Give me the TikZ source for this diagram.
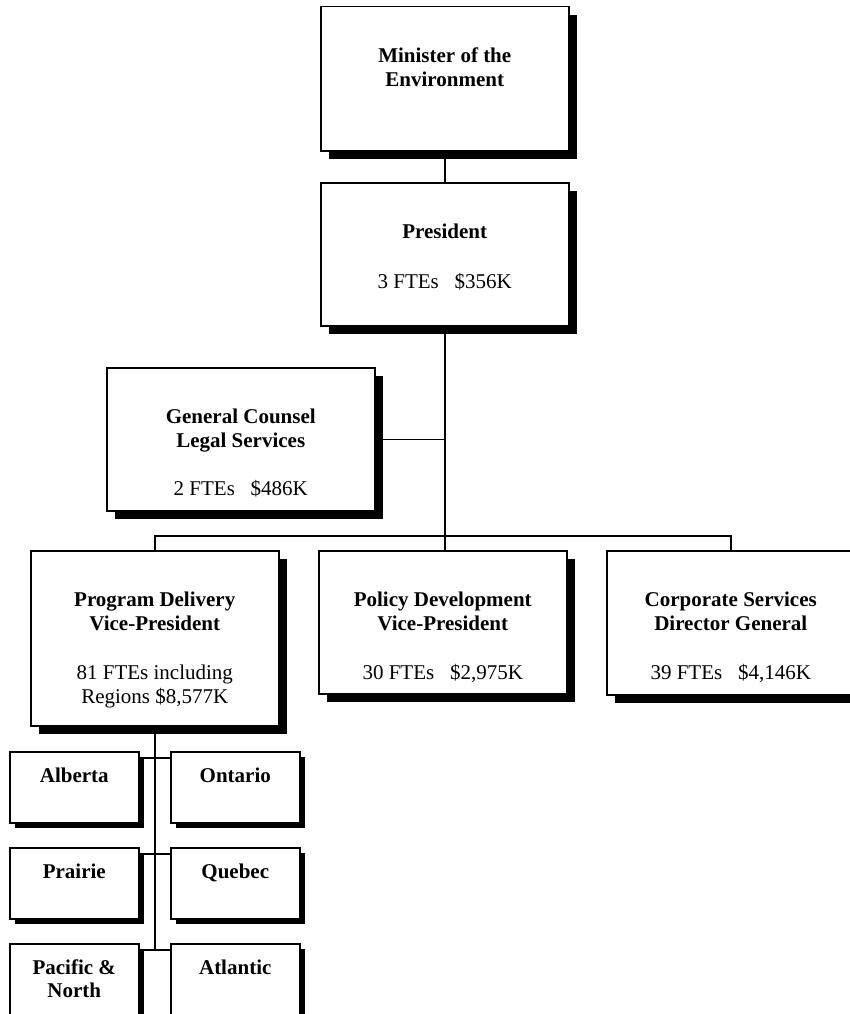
\documentclass[tikz,border=0pt]{standalone}
\usepackage{fontspec}
\setmainfont{Liberation Serif}
\usetikzlibrary{shadows}

\begin{document}
\begin{tikzpicture}[x=1pt,y=-1pt,
  unit/.style={rectangle,draw,fill=white,line width=1.5pt,anchor=north west,minimum width=248pt},
  bigshadow/.style={drop shadow={shadow xshift=8pt,shadow yshift=-8pt,fill=black,opacity=1}},
  smallshadow/.style={drop shadow={shadow xshift=5pt,shadow yshift=-5pt,fill=black,opacity=1}},
  region/.style={unit,smallshadow,minimum width=129pt,minimum height=71pt},
  txt/.style={anchor=north,align=center,inner sep=0pt,font=\fontsize{21}{24}\selectfont}]
\def\hTop{-42pt}
\def\hReg{-17pt}
\useasboundingbox (0,0) rectangle (850,1014);

\path
(320,6) node [unit,bigshadow,minimum height=144pt] (min) {}
(320,182) node [unit,bigshadow,minimum height=143pt] (pres) {}
(106,367) node [unit,bigshadow,minimum width=268pt,minimum height=143pt] (gc) {}
(30,550) node [unit,bigshadow,minimum height=175pt] (pd) {}
(318,550) node [unit,bigshadow,minimum height=143pt] (pol) {}
(606,550) node [unit,bigshadow,minimum height=144pt] (cs) {}
(9,751) node [region] (alb) {}
(170,751) node [region] (ont) {}
(9,847) node [region] (pra) {}
(170,847) node [region] (que) {}
(9,943) node [region,minimum height=80pt] (pac) {}
(170,943) node [region,minimum height=80pt] (atl) {}
;

\path
([yshift=\hTop]min.north) node [txt] (minT) {\textbf{Minister of the}\\\textbf{Environment}}
([yshift=\hTop]pres.north) node [txt] (presT) {\textbf{President}\\[26pt]3 FTEs~~~\$356K}
([yshift=\hTop]gc.north) node [txt] (gcT) {\textbf{General Counsel}\\\textbf{Legal Services}\\[24pt]2 FTEs~~~\$486K}
([yshift=\hTop]pd.north) node [txt] (pdT) {\textbf{Program Delivery}\\\textbf{Vice-President}\\[25pt]81 FTEs including\\Regions \$8,577K}
([yshift=\hTop]pol.north) node [txt] (polT) {\textbf{Policy Development}\\\textbf{Vice-President}\\[25pt]30 FTEs~~~\$2,975K}
([yshift=\hTop]cs.north) node [txt] (csT) {\textbf{Corporate Services}\\\textbf{Director General}\\[25pt]39 FTEs~~~\$4,146K}
([yshift=\hReg]alb.north) node [txt] (albT) {\textbf{Alberta}}
([yshift=\hReg]ont.north) node [txt] (ontT) {\textbf{Ontario}}
([yshift=\hReg]pra.north) node [txt] (praT) {\textbf{Prairie}}
([yshift=\hReg]que.north) node [txt] (queT) {\textbf{Quebec}}
([yshift=\hReg]pac.north) node [txt,font=\fontsize{21}{23}\selectfont] (pacT) {\textbf{Pacific \&}\\\textbf{North}}
([yshift=\hReg]atl.north) node [txt] (atlT) {\textbf{Atlantic}}
;

\begin{scope}[every path/.style=draw,line width=1.5pt]
\path (min.south) -- (pres.north);
\path (pres.south) -- (pres.south |- pol.north);
\path (gc.east) -- (gc.east -| pres.south);
\path (pd.north) -- ++(0,-14) -| (cs.north);
\path (pd.south) -- (pd.south |- pac.north) -- ++(0,7);
\path ([yshift=-7pt]alb.north east) -- ([yshift=-7pt]ont.north west);
\path ([yshift=-7pt]pra.north east) -- ([yshift=-7pt]que.north west);
\path ([yshift=-7pt]pac.north east) -- ([yshift=-7pt]atl.north west);
\end{scope}
\end{tikzpicture}
\end{document}
